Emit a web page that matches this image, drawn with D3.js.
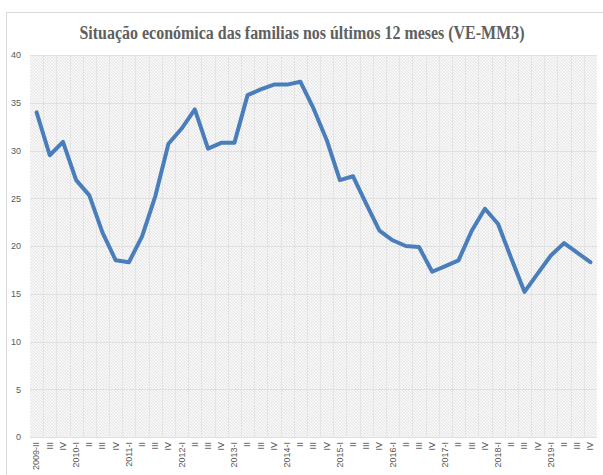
<!DOCTYPE html>
<html>
<head>
<meta charset="utf-8">
<script src="https://cdn.jsdelivr.net/npm/d3@7"></script>
<style>
  html, body { margin: 0; padding: 0; background: #fff; }
  svg { display: block; }
</style>
</head>
<body>
<div id="chart"></div>
<script>
// quarters, 2009-II .. 2019-IV
var categories = [
  "2009-II", "2009-III", "2009-IV",
  "2010-I", "2010-II", "2010-III", "2010-IV",
  "2011-I", "2011-II", "2011-III", "2011-IV",
  "2012-I", "2012-II", "2012-III", "2012-IV",
  "2013-I", "2013-II", "2013-III", "2013-IV",
  "2014-I", "2014-II", "2014-III", "2014-IV",
  "2015-I", "2015-II", "2015-III", "2015-IV",
  "2016-I", "2016-II", "2016-III", "2016-IV",
  "2017-I", "2017-II", "2017-III", "2017-IV",
  "2018-I", "2018-II", "2018-III", "2018-IV",
  "2019-I", "2019-II", "2019-III", "2019-IV"
];

// tick labels as printed on the axis (year only on first quarter)
var tickLabels = categories.map(function(c, i) {
  var parts = c.split("-");
  return (i === 0 || parts[1] === "I") ? c : parts[1];
});

var values = [
  34.0, 29.5, 30.9,
  26.9, 25.3, 21.4, 18.5,
  18.3, 21.0, 25.2, 30.7,
  32.3, 34.3, 30.2, 30.8,
  30.8, 35.8, 36.4, 36.9,
  36.9, 37.2, 34.4, 31.1,
  26.9, 27.3, 24.4, 21.6,
  20.6, 20.0, 19.9, 17.3,
  17.9, 18.5, 21.6, 23.9,
  22.3, 18.7, 15.2, 17.1,
  19.0, 20.3, 19.3, 18.3
];

var yTicks = [0, 5, 10, 15, 20, 25, 30, 35, 40];

var title = "Situação económica das familias nos últimos 12 meses (VE-MM3)";

var width = 603, height = 475;
var plot = { left: 30, right: 597, top: 55, bottom: 437 };
var labelFont = "'Liberation Sans Narrow', 'Liberation Sans', Arial, sans-serif";

var svg = d3.select("#chart").append("svg")
    .attr("width", width)
    .attr("height", height);

// diagonal hatch used by the plot area
var pattern = svg.append("defs").append("pattern")
    .attr("id", "hatch")
    .attr("patternUnits", "userSpaceOnUse")
    .attr("width", 3)
    .attr("height", 3);
pattern.append("rect").attr("width", 3).attr("height", 3).attr("fill", "#f7f7f7");
pattern.append("path")
    .attr("d", "M-1,-1 L4,4 M-1,2 L1,4 M2,-1 L4,1")
    .attr("stroke", "#e1e1e1")
    .attr("stroke-width", 0.8);

// outer chart border
svg.append("rect")
    .attr("x", 6.5).attr("y", 12.5)
    .attr("width", 610).attr("height", 480)
    .attr("fill", "none")
    .attr("stroke", "#d9d9d9");

var x = d3.scaleBand()
    .domain(categories)
    .range([plot.left, plot.right])
    .padding(0);

var y = d3.scaleLinear()
    .domain([0, 40])
    .range([plot.bottom, plot.top]);

svg.append("rect")
    .attr("x", plot.left).attr("y", plot.top)
    .attr("width", plot.right - plot.left)
    .attr("height", plot.bottom - plot.top)
    .attr("fill", "url(#hatch)");

// vertical gridlines between categories
svg.append("g").selectAll("line")
    .data(categories.slice(1))
    .enter().append("line")
    .attr("x1", function(d) { return Math.round(x(d)) + 0.5; })
    .attr("x2", function(d) { return Math.round(x(d)) + 0.5; })
    .attr("y1", plot.top)
    .attr("y2", plot.bottom)
    .attr("stroke", "#e4e4e4")
    .attr("stroke-width", 1);

// horizontal gridlines
svg.append("g").selectAll("line")
    .data(yTicks)
    .enter().append("line")
    .attr("x1", plot.left)
    .attr("x2", plot.right)
    .attr("y1", function(d) { return Math.round(y(d)) + 0.5; })
    .attr("y2", function(d) { return Math.round(y(d)) + 0.5; })
    .attr("stroke", "#e0e0e0")
    .attr("stroke-width", 1);

// y axis labels
var yAxis = d3.axisLeft(y).tickValues(yTicks).tickSize(0).tickPadding(0);
var gy = svg.append("g")
    .attr("transform", "translate(21,0)")
    .call(yAxis);
gy.select(".domain").remove();
gy.selectAll("text")
    .attr("font-family", labelFont)
    .attr("font-size", 9)
    .attr("fill", "#595959");

// x axis labels, rotated
var xAxis = d3.axisBottom(x).tickSize(0).tickPadding(0)
    .tickFormat(function(d, i) { return tickLabels[i]; });
var gx = svg.append("g")
    .attr("transform", "translate(0," + plot.bottom + ")")
    .call(xAxis);
gx.select(".domain").remove();
gx.selectAll("text")
    .attr("font-family", labelFont)
    .attr("font-size", 9)
    .attr("fill", "#595959")
    .attr("text-anchor", "end")
    .attr("dy", "0.32em")
    .attr("transform", "translate(0,5) rotate(-90)")
    .attr("x", 0).attr("y", 0);

// the series
var line = d3.line()
    .x(function(d, i) { return x(categories[i]) + x.bandwidth() / 2; })
    .y(function(d) { return y(d); });

svg.append("path")
    .datum(values)
    .attr("d", line)
    .attr("fill", "none")
    .attr("stroke", "#4a7ebb")
    .attr("stroke-width", 4)
    .attr("stroke-linejoin", "round")
    .attr("stroke-linecap", "round");

// title
svg.append("text")
    .attr("x", 302)
    .attr("y", 39)
    .attr("text-anchor", "middle")
    .attr("font-family", "'Liberation Serif', 'DejaVu Serif', serif")
    .attr("font-weight", "bold")
    .attr("font-size", 18)
    .attr("fill", "#606060")
    .attr("textLength", 445)
    .attr("lengthAdjust", "spacingAndGlyphs")
    .text(title);
</script>
</body>
</html>
